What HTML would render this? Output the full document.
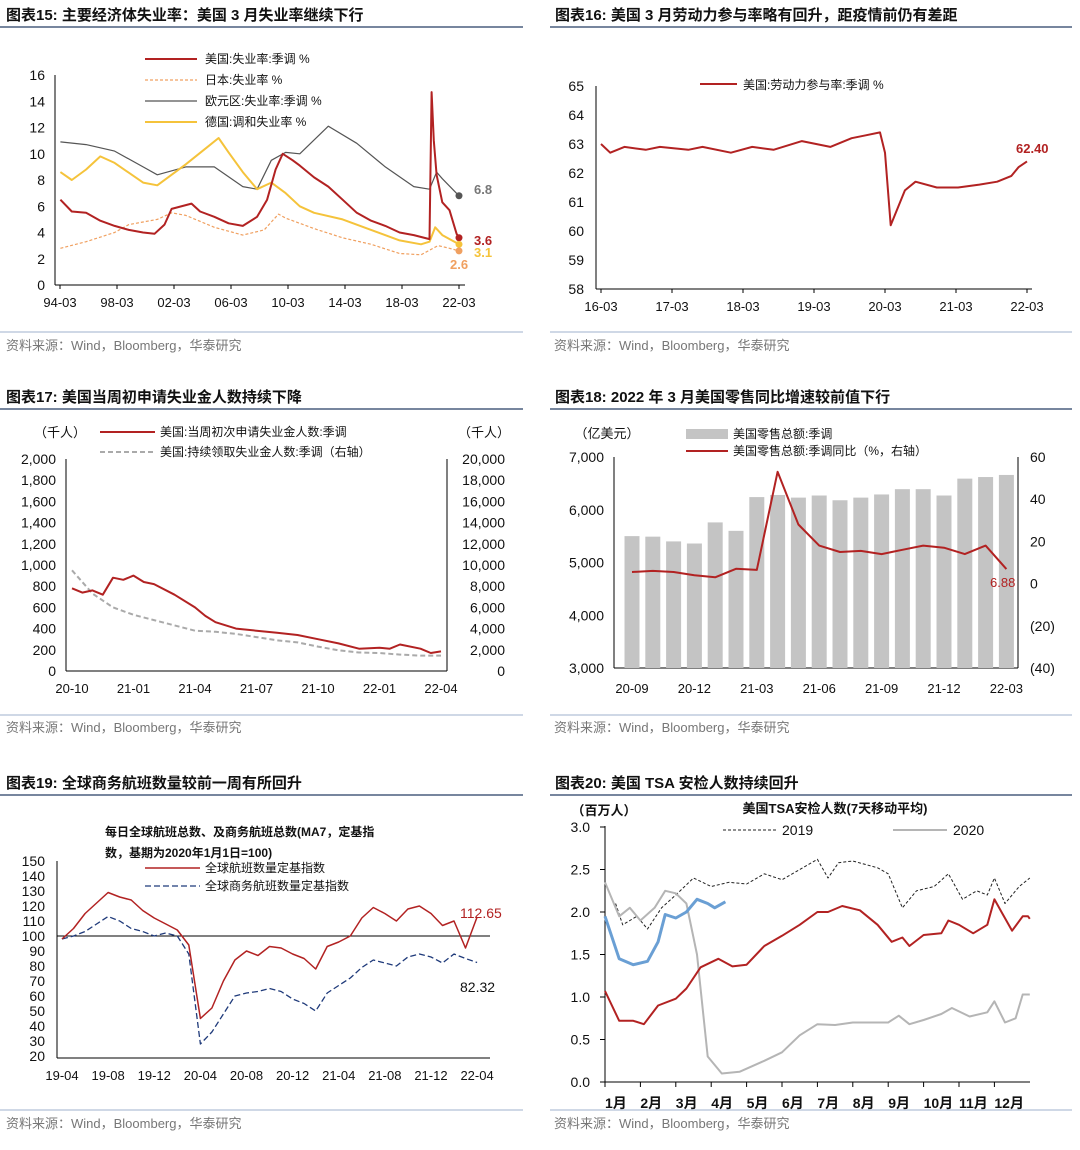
<!DOCTYPE html>
<html><head><meta charset="utf-8"><style>
body{margin:0;background:#fff;}
svg{display:block;font-family:"Liberation Sans","Noto Sans CJK SC",sans-serif;}
.t{font-size:15px;font-weight:bold;fill:#111;}
.src{font-size:13px;fill:#777;}
.tk{font-size:13px;fill:#111;}
.lg{font-size:12px;fill:#111;}
</style></head><body>
<svg id="s" width="1080" height="1150" viewBox="0 0 1080 1150">
<g stroke="#4a5f7e">
<line x1="0" y1="27" x2="523" y2="27" stroke-width="1.5"/><line x1="550" y1="27" x2="1072" y2="27" stroke-width="1.5"/>
<line x1="0" y1="409" x2="523" y2="409" stroke-width="1.5"/><line x1="550" y1="409" x2="1072" y2="409" stroke-width="1.5"/>
<line x1="0" y1="795" x2="523" y2="795" stroke-width="1.5"/><line x1="550" y1="795" x2="1072" y2="795" stroke-width="1.5"/>
<line x1="0" y1="332" x2="523" y2="332" stroke="#9fb2cc"/><line x1="550" y1="332" x2="1072" y2="332" stroke="#9fb2cc"/>
<line x1="0" y1="715" x2="523" y2="715" stroke="#9fb2cc"/><line x1="550" y1="715" x2="1072" y2="715" stroke="#9fb2cc"/>
<line x1="0" y1="1110" x2="523" y2="1110" stroke="#9fb2cc"/><line x1="550" y1="1110" x2="1072" y2="1110" stroke="#9fb2cc"/>
</g>
<text class="t" x="6" y="20">图表15:  主要经济体失业率：美国 3 月失业率继续下行</text>
<text class="t" x="555" y="20">图表16:  美国 3 月劳动力参与率略有回升，距疫情前仍有差距</text>
<text class="t" x="6" y="402">图表17:  美国当周初申请失业金人数持续下降</text>
<text class="t" x="555" y="402">图表18:  2022 年 3 月美国零售同比增速较前值下行</text>
<text class="t" x="6" y="788">图表19:  全球商务航班数量较前一周有所回升</text>
<text class="t" x="555" y="788">图表20:  美国 TSA 安检人数持续回升</text>
<text class="src" x="6" y="350">资料来源：Wind，Bloomberg，华泰研究</text>
<text class="src" x="554" y="350">资料来源：Wind，Bloomberg，华泰研究</text>
<text class="src" x="6" y="732">资料来源：Wind，Bloomberg，华泰研究</text>
<text class="src" x="554" y="732">资料来源：Wind，Bloomberg，华泰研究</text>
<text class="src" x="6" y="1128">资料来源：Wind，Bloomberg，华泰研究</text>
<text class="src" x="554" y="1128">资料来源：Wind，Bloomberg，华泰研究</text>
<g id="g"></g>
</svg>
<script>
// ---- Chart 15 data ----
const c15Ticks=["94-03","98-03","02-03","06-03","10-03","14-03","18-03","22-03"];
const c15Y=[0,2,4,6,8,10,12,14,16];
const usUnemp=[[1994.2,6.5],[1995,5.6],[1996,5.5],[1997,4.9],[1998,4.5],[1999,4.2],[2000,4.0],[2000.8,3.9],[2001.5,4.6],[2002,5.8],[2003.4,6.2],[2004,5.6],[2005,5.2],[2006,4.7],[2007,4.5],[2008,5.2],[2008.7,6.5],[2009.3,8.8],[2009.8,10.0],[2010.5,9.5],[2011,9.1],[2012,8.2],[2013,7.5],[2014,6.5],[2015,5.5],[2016,4.9],[2017,4.5],[2018,4.0],[2019,3.8],[2020.1,3.5],[2020.25,14.7],[2020.4,11.0],[2020.6,8.4],[2021,6.3],[2021.5,5.7],[2022,3.9],[2022.17,3.6]];
const jpUnemp=[[1994.2,2.8],[1996,3.3],[1998,4.0],[1999,4.6],[2001,5.0],[2002,5.5],[2003,5.3],[2005,4.4],[2007,3.8],[2008.5,4.2],[2009.5,5.4],[2010,5.1],[2012,4.3],[2014,3.6],[2016,3.1],[2018,2.4],[2019.5,2.3],[2020.7,3.0],[2021.5,2.8],[2022.17,2.6]];
const euUnemp=[[1994.2,10.9],[1996,10.7],[1998,10.2],[2000,9.0],[2001,8.4],[2003,9.0],[2005,9.0],[2007,7.5],[2008,7.3],[2009,9.5],[2010,10.1],[2011,10.0],[2013,12.1],[2015,10.8],[2017,9.0],[2019,7.5],[2020.1,7.3],[2020.6,8.6],[2021,8.1],[2022.17,6.8]];
const deUnemp=[[1994.2,8.6],[1995,8.0],[1996,8.8],[1997,9.8],[1998,9.3],[2000,7.8],[2001,7.6],[2003,9.2],[2004.5,10.5],[2005.3,11.2],[2006,10.1],[2007,8.6],[2008,7.3],[2009,7.8],[2010,7.0],[2011,6.0],[2012,5.5],[2014,5.0],[2016,4.2],[2018,3.4],[2019.5,3.1],[2020.1,3.3],[2020.5,4.4],[2021,3.8],[2022.17,3.1]];
// ---- Chart 16 data ----
const c16Ticks=["16-03","17-03","18-03","19-03","20-03","21-03","22-03"];
const c16Y=[58,59,60,61,62,63,64,65];
const lfpr=[[2016.17,63.0],[2016.3,62.7],[2016.5,62.9],[2016.8,62.8],[2017,62.9],[2017.4,62.8],[2017.6,62.9],[2018,62.7],[2018.3,62.9],[2018.6,62.8],[2019,63.1],[2019.4,62.9],[2019.7,63.2],[2019.9,63.3],[2020.1,63.4],[2020.17,62.7],[2020.25,60.2],[2020.45,61.4],[2020.6,61.7],[2020.9,61.5],[2021.2,61.5],[2021.5,61.6],[2021.75,61.7],[2021.95,61.9],[2022.05,62.2],[2022.17,62.4]];
// ---- Chart 17 data ----
const c17Ticks=["20-10","21-01","21-04","21-07","21-10","22-01","22-04"];
const c17L=[0,200,400,600,800,1000,1200,1400,1600,1800,2000];
const initialClaims=[[0,780],[0.5,740],[1,760],[1.5,720],[2,880],[2.5,860],[3,900],[3.5,840],[4,820],[5,720],[6,600],[6.5,520],[7,460],[8,400],[9,380],[10,360],[11,340],[12,300],[13,260],[14,210],[15,220],[15.5,210],[16,250],[17,210],[17.5,170],[18,185]];
const continuingClaims=[[0,9500],[1,7300],[2,6000],[3,5300],[4,4800],[5,4300],[6,3800],[7,3700],[8,3500],[9,3200],[10,2900],[11,2700],[12,2300],[13,1950],[14,1750],[15,1700],[16,1550],[17,1450],[18,1450]];
// ---- Chart 18 data ----
const c18Ticks=["20-09","20-12","21-03","21-06","21-09","21-12","22-03"];
const c18L=[3000,4000,5000,6000,7000];
const c18R=["(40)","(20)","0","20","40","60"];
const retailSales=[5500,5490,5400,5360,5760,5600,6240,6280,6230,6270,6180,6230,6290,6390,6390,6270,6590,6620,6660];
const retailYoY=[5.5,6,5.5,4,3,7,6.5,53,28,18,15,15.5,14,16,18,17,14,18,6.88];
// ---- Chart 19 data ----
const c19Ticks=["19-04","19-08","19-12","20-04","20-08","20-12","21-04","21-08","21-12","22-04"];
const c19Y=[20,30,40,50,60,70,80,90,100,110,120,130,140,150];
const totalFlights=[98,105,115,122,129,126,124,117,112,108,104,94,45,52,70,84,90,87,93,92,88,85,78,93,96,100,112,119,115,110,118,120,115,107,110,92,112.65];
const bizFlights=[98,100,103,108,113,110,105,103,100,102,100,88,28,36,48,60,62,63,65,63,58,55,50,62,67,72,79,84,82,80,86,88,86,82,88,85,82.32];
// ---- Chart 20 data ----
const c20Ticks=["1月","2月","3月","4月","5月","6月","7月","8月","9月","10月","11月","12月"];
const c20Y=[0.0,0.5,1.0,1.5,2.0,2.5,3.0];
const tsa2019=[[0.3,2.1],[0.5,1.85],[0.9,1.95],[1.2,1.8],[1.6,2.05],[2,2.2],[2.5,2.4],[3,2.3],[3.5,2.35],[4,2.33],[4.5,2.45],[5,2.38],[5.5,2.5],[6,2.62],[6.3,2.4],[6.6,2.58],[7,2.6],[7.7,2.52],[8,2.45],[8.4,2.05],[8.8,2.25],[9.3,2.3],[9.7,2.45],[10.1,2.15],[10.5,2.25],[10.8,2.2],[11,2.4],[11.3,2.1],[11.7,2.3],[12,2.4]];
const tsa2020=[[0,2.35],[0.4,1.95],[0.7,2.05],[1,1.9],[1.4,2.05],[1.7,2.25],[2,2.22],[2.3,2.1],[2.6,1.5],[2.9,0.3],[3.3,0.1],[3.8,0.12],[4.5,0.25],[5,0.35],[5.5,0.55],[6,0.68],[6.5,0.67],[7,0.7],[8,0.7],[8.3,0.78],[8.6,0.68],[9,0.73],[9.5,0.8],[9.8,0.87],[10.3,0.77],[10.8,0.82],[11,0.95],[11.3,0.7],[11.6,0.75],[11.8,1.03],[12,1.03]];
const tsa2021=[[0,1.07],[0.4,0.72],[0.8,0.72],[1.1,0.68],[1.5,0.9],[2,0.98],[2.3,1.1],[2.7,1.35],[3.2,1.45],[3.6,1.36],[4,1.38],[4.5,1.6],[5,1.72],[5.5,1.85],[6,2.0],[6.3,2.0],[6.7,2.07],[7.2,2.02],[7.7,1.85],[8.1,1.65],[8.4,1.7],[8.6,1.6],[9,1.73],[9.5,1.75],[9.7,1.9],[10,1.85],[10.4,1.75],[10.8,1.85],[11,2.15],[11.2,2.0],[11.5,1.78],[11.8,1.95],[11.95,1.95],[12,1.92]];
const tsa2022=[[0,1.95],[0.4,1.45],[0.8,1.38],[1.2,1.42],[1.5,1.65],[1.7,1.97],[2,1.93],[2.3,2.0],[2.6,2.15],[2.9,2.1],[3.1,2.05],[3.4,2.12]];

const NS="http://www.w3.org/2000/svg";
const G=document.getElementById('g');
function mk(tag,attrs,name,txt){const el=document.createElementNS(NS,tag);for(const k in attrs)el.setAttribute(k,attrs[k]);


if(txt!==undefined)el.textContent=txt;G.appendChild(el);return el;}
function poly(pts,fx,fy,stroke,w,name,dash){return mk('polyline',{points:pts.map(p=>fx(p[0]).toFixed(1)+','+fy(p[1]).toFixed(1)).join(' '),fill:'none',stroke:stroke,'stroke-width':w,'stroke-dasharray':dash||'none','stroke-linejoin':'round'},name);}
function tx(x,y,s,name,anchor,extra){const a=Object.assign({x:x,y:y,class:'tk','text-anchor':anchor||'middle'},extra||{});return mk('text',a,name,s);}
function ln(x1,y1,x2,y2,name,st){return mk('line',Object.assign({x1,y1,x2,y2,stroke:'#000','stroke-width':1},st||{}),name);}

// ---- Chart 15 ----
(function(){const fx=t=>60+(t-1994.17)*14.25, fy=v=>285-v*13.125;
ln(55,75,55,285,'c15-y-axis');ln(55,285,465,285,'c15-x-axis');
c15Y.forEach(v=>{tx(45,fy(v)+5,v,'c15-y-tick','end',{style:'font-size:14px'});});
c15Ticks.forEach((s,i)=>{tx(fx(1994.17+i*4),307,s,'c15-x-tick');ln(fx(1994.17+i*4),285,fx(1994.17+i*4),289,'c15-x-tickmark');});
poly(euUnemp,fx,fy,'#555',1.2,'c15-eurozone-line');
poly(deUnemp,fx,fy,'#f5c33b',2,'c15-germany-line');
poly(jpUnemp,fx,fy,'#f0a060',1.2,'c15-japan-line','3,2');
poly(usUnemp,fx,fy,'#b22222',2,'c15-us-line');
mk('circle',{cx:fx(2022.17),cy:fy(6.8),r:3.5,fill:'#555'},'c15-eu-end');
mk('circle',{cx:fx(2022.17),cy:fy(3.6),r:3.5,fill:'#b22222'},'c15-us-end');
mk('circle',{cx:fx(2022.17),cy:fy(3.1),r:3.5,fill:'#f5c33b'},'c15-de-end');
mk('circle',{cx:fx(2022.17),cy:fy(2.6),r:3.5,fill:'#f0a060'},'c15-jp-end');
tx(474,194,'6.8','c15-eu-label','start',{style:'font-weight:bold;fill:#777'});
tx(474,245,'3.6','c15-us-label','start',{style:'font-weight:bold;fill:#b22222'});
tx(474,257,'3.1','c15-de-label','start',{style:'font-weight:bold;fill:#f5c33b'});
tx(450,269,'2.6','c15-jp-label','start',{style:'font-weight:bold;fill:#f0a060'});
const L=[['美国:失业率:季调 %','#b22222',2,''],['日本:失业率 %','#f0a060',1.2,'3,2'],['欧元区:失业率:季调 %','#555',1.2,''],['德国:调和失业率 %','#f5c33b',2,'']];
L.forEach((l,i)=>{const y=59+i*21;ln(145,y,197,y,'c15-legend-swatch',{stroke:l[1],'stroke-width':l[2],'stroke-dasharray':l[3]||'none'});mk('text',{x:205,y:y+4,class:'lg'},'c15-legend-entry',l[0]);});
})();
// ---- Chart 16 ----
(function(){const fx=t=>601+(t-2016.17)*71, fy=v=>289-(v-58)*29;
ln(596,86,596,289,'c16-y-axis');ln(596,289,1032,289,'c16-x-axis');
c16Y.forEach(v=>tx(584,fy(v)+5,v,'c16-y-tick','end',{style:'font-size:14px'}));
c16Ticks.forEach((s,i)=>{tx(fx(2016.17+i),311,s,'c16-x-tick');ln(fx(2016.17+i),289,fx(2016.17+i),293,'c16-x-tickmark');});
poly(lfpr,fx,fy,'#b22222',2,'c16-lfpr-line');
tx(1016,153,'62.40','c16-end-label','start',{style:'font-weight:bold;fill:#b22222'});
ln(700,84,737,84,'c16-legend-swatch',{stroke:'#b22222','stroke-width':2});
mk('text',{x:743,y:89,class:'lg'},'c16-legend-entry','美国:劳动力参与率:季调 %');
})();
// ---- Chart 17 ----
(function(){const fx=m=>72+m*20.5, fy=v=>671-v*0.106, fyr=v=>671-v*0.0106;
ln(66,459,66,671,'c17-y-axis');ln(447,459,447,671,'c17-y2-axis');ln(66,671,447,671,'c17-x-axis');
c17L.forEach(v=>{tx(56,fy(v)+5,v.toLocaleString('en-US'),'c17-y-tick','end',{style:'font-size:14px'});tx(505,fy(v)+5,(v*10).toLocaleString('en-US'),'c17-y2-tick','end',{style:'font-size:14px'});});
c17Ticks.forEach((s,i)=>tx(fx(i*3),693,s,'c17-x-tick'));
tx(60,437,'（千人）','c17-y-unit','middle');tx(484,437,'（千人）','c17-y2-unit','middle');
poly(continuingClaims,fx,fyr,'#aaa',2,'c17-continuing-line','5,3');
poly(initialClaims,fx,fy,'#b22222',2,'c17-initial-line');
ln(100,432,155,432,'c17-legend-swatch',{stroke:'#b22222','stroke-width':2});
mk('text',{x:160,y:436,class:'lg'},'c17-legend-entry','美国:当周初次申请失业金人数:季调');
ln(100,452,155,452,'c17-legend-swatch',{stroke:'#aaa','stroke-width':2,'stroke-dasharray':'5,3'});
mk('text',{x:160,y:456,class:'lg'},'c17-legend-entry','美国:持续领取失业金人数:季调（右轴）');
})();
// ---- Chart 18 ----
(function(){const fx=i=>632+i*20.8, fy=v=>668-(v-3000)*0.05275, fyr=v=>668-(v+40)*2.11;
ln(614,457,614,668,'c18-y-axis');ln(1018,457,1018,668,'c18-y2-axis');ln(614,668,1018,668,'c18-x-axis');
c18L.forEach(v=>tx(604,fy(v)+5,v.toLocaleString('en-US'),'c18-y-tick','end',{style:'font-size:14px'}));
c18R.forEach((s,i)=>tx(1030,fyr(-40+i*20)+5,s,'c18-y2-tick','start',{style:'font-size:14px'}));
c18Ticks.forEach((s,i)=>tx(fx(i*3),693,s,'c18-x-tick'));
retailSales.forEach((v,i)=>mk('rect',{x:fx(i)-7.5,y:fy(v),width:15,height:668-fy(v),fill:'#c4c4c4'},'c18-sales-bar'));
poly(retailYoY.map((v,i)=>[i,v]),fx,fyr,'#b22222',2,'c18-yoy-line');
tx(990,587,'6.88','c18-end-label','start',{style:'fill:#b22222'});
tx(607,438,'（亿美元）','c18-y-unit','middle');
mk('rect',{x:686,y:429,width:42,height:10,fill:'#c4c4c4'},'c18-legend-swatch');
mk('text',{x:733,y:438,class:'lg'},'c18-legend-entry','美国零售总额:季调');
ln(686,451,728,451,'c18-legend-swatch',{stroke:'#b22222','stroke-width':2});
mk('text',{x:733,y:455,class:'lg'},'c18-legend-entry','美国零售总额:季调同比（%，右轴）');
})();
// ---- Chart 19 ----
(function(){const fx=m=>62+m*11.53, fy=v=>1056-(v-20)*1.5;
ln(57,861,57,1058,'c19-y-axis');ln(57,1058,490,1058,'c19-x-axis');
c19Y.forEach(v=>tx(45,fy(v)+5,v,'c19-y-tick','end',{style:'font-size:14px'}));
c19Ticks.forEach((s,i)=>tx(fx(i*4),1080,s,'c19-x-tick'));
ln(57,fy(100),490,fy(100),'c19-baseline-100',{'stroke-width':1});
poly(bizFlights.map((v,i)=>[i,v]),fx,fy,'#1f3a7a',1.3,'c19-business-line','6,3');
poly(totalFlights.map((v,i)=>[i,v]),fx,fy,'#b22222',1.5,'c19-total-line');
tx(460,918,'112.65','c19-total-label','start',{style:'font-size:14px;fill:#b22222'});
tx(460,992,'82.32','c19-biz-label','start',{style:'font-size:14px;fill:#111'});
mk('text',{x:105,y:836,class:'lg',style:'font-weight:bold'},'c19-subtitle','每日全球航班总数、及商务航班总数(MA7，定基指');
mk('text',{x:105,y:857,class:'lg',style:'font-weight:bold'},'c19-subtitle','数，基期为2020年1月1日=100)');
ln(145,868,200,868,'c19-legend-swatch',{stroke:'#b22222','stroke-width':1.5});
mk('text',{x:205,y:872,class:'lg'},'c19-legend-entry','全球航班数量定基指数');
ln(145,886,200,886,'c19-legend-swatch',{stroke:'#1f3a7a','stroke-width':1.3,'stroke-dasharray':'6,3'});
mk('text',{x:205,y:890,class:'lg'},'c19-legend-entry','全球商务航班数量定基指数');
})();
// ---- Chart 20 ----
(function(){const fx=m=>605+m*35.4, fy=v=>1082-v*85;
ln(605,826,605,1082,'c20-y-axis');ln(605,1082,1030,1082,'c20-x-axis');
c20Y.forEach(v=>{tx(590,fy(v)+5,v.toFixed(1),'c20-y-tick','end',{style:'font-size:14px'});ln(600,fy(v),605,fy(v),'c20-y-tickmark');});
c20Ticks.forEach((s,i)=>{tx(fx(i),1108,s,'c20-x-tick','start',{style:'font-size:14px;font-weight:bold'});ln(fx(i),1082,fx(i),1087,'c20-x-tickmark');});
tx(604,815,'（百万人）','c20-y-unit','middle',{style:'font-size:13px;font-weight:bold'});
tx(835,813,'美国TSA安检人数(7天移动平均)','c20-subtitle','middle',{style:'font-size:13px;font-weight:bold'});
poly(tsa2019,fx,fy,'#222',1,'c20-2019-line','3,2');
poly(tsa2020,fx,fy,'#b5b5b5',2,'c20-2020-line');
poly(tsa2021,fx,fy,'#b22222',2,'c20-2021-line');
poly(tsa2022,fx,fy,'#6a9fd4',3,'c20-2022-line');
ln(723,830,777,830,'c20-legend-swatch',{stroke:'#222','stroke-dasharray':'3,2'});
mk('text',{x:782,y:835,class:'tk',style:'font-size:14px'},'c20-legend-entry','2019');
ln(893,830,947,830,'c20-legend-swatch',{stroke:'#b5b5b5','stroke-width':2});
mk('text',{x:953,y:835,class:'tk',style:'font-size:14px'},'c20-legend-entry','2020');
})();
</script>
</body></html>
